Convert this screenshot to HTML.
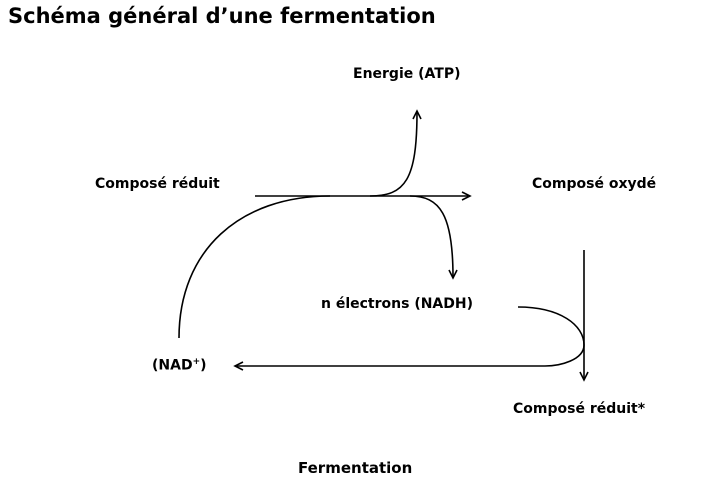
<!DOCTYPE html>
<html><head><meta charset="utf-8"><style>
html,body{margin:0;padding:0;background:#fff;}
body{width:718px;height:496px;position:relative;overflow:hidden;font-family:"DejaVu Sans","Liberation Sans",sans-serif;font-weight:bold;color:#000;}
.t{position:absolute;white-space:nowrap;font-size:14px;}
</style></head><body>
<div class="t" style="left:8px;top:4px;font-size:21px;">Schéma général d’une fermentation</div>
<div class="t" style="left:353px;top:66px;">Energie (ATP)</div>
<div class="t" style="left:95px;top:176px;">Composé réduit</div>
<div class="t" style="left:532px;top:176px;">Composé oxydé</div>
<div class="t" style="left:321px;top:296px;">n électrons (NADH)</div>
<div class="t" style="left:152px;top:357px;">(NAD<sup style="font-size:9px">+</sup>)</div>
<div class="t" style="left:513px;top:401px;">Composé réduit*</div>
<div class="t" style="left:298px;top:459px;font-size:15px;">Fermentation</div>
<svg width="718" height="496" style="position:absolute;left:0;top:0" fill="none" stroke="#000" stroke-width="1.6">
<path d="M255 196 H468"/><path d="M462 192 L470 196 L462 200"/>
<path d="M370 196 C405 196 417 180 417 112"/><path d="M413 119 L417 111 L421 119"/>
<path d="M410 196 C440 196 453 215 453 277"/><path d="M449 270 L453 278 L457 270"/>
<path d="M179 338 C179 250 240 196 330 196"/>
<path d="M584 250 V379"/><path d="M580 372 L584 380 L588 372"/>
<path d="M518 307 C560 307 584 325 584 345 C584 360 560 366 545 366"/>
<path d="M545 366 H236"/><path d="M243 362 L235 366 L243 370"/>
</svg>
</body></html>
